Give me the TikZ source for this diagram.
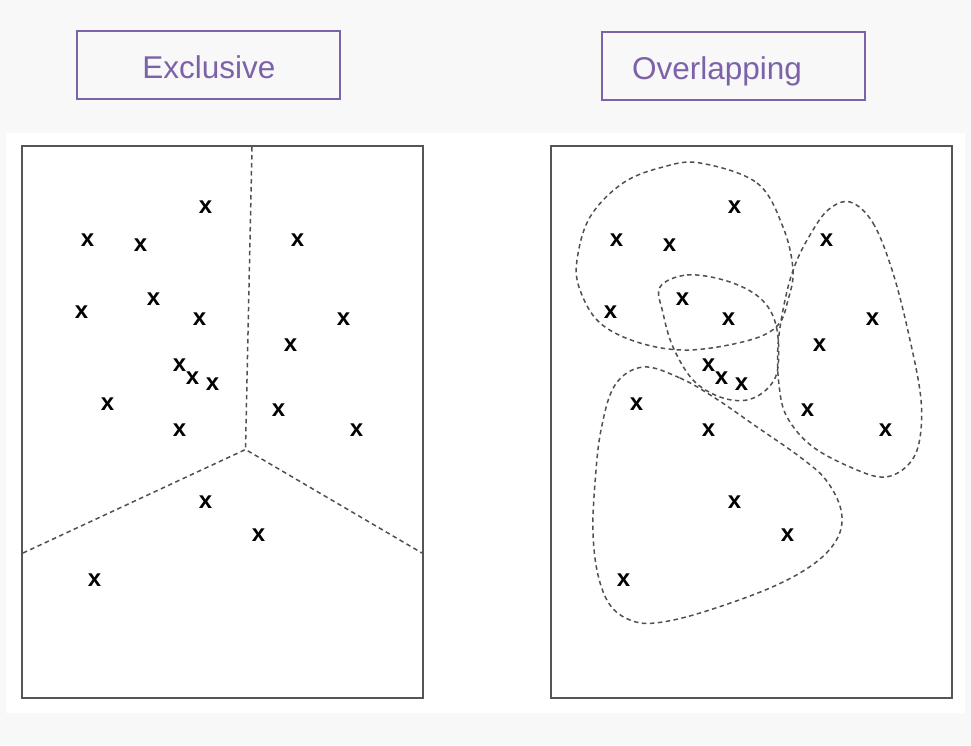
\documentclass[tikz,border=0pt]{standalone}
\usepackage{fontspec}
\setmainfont{Liberation Sans}
\definecolor{bggray}{HTML}{F8F8F8}
\definecolor{purp}{HTML}{7E62A9}
\definecolor{frame}{HTML}{555555}
\definecolor{dash}{HTML}{505050}
\tikzset{
  titlebox/.style={draw=purp, line width=2pt, minimum width=263pt, minimum height=68pt, inner sep=0pt},
  titletext/.style={text=purp, font=\fontsize{31.5}{36}\selectfont, inner sep=0pt, anchor=base},
  plotframe/.style={draw=frame, line width=1.6pt},
  sep/.style={draw=dash, line width=1.5pt, dash pattern=on 4.5pt off 3.5pt},
  pt/.style={font=\fontsize{24}{24}\bfseries\selectfont, inner sep=0pt, anchor=center}
}
\begin{document}
\begin{tikzpicture}[x=1pt,y=-1pt]
\useasboundingbox (0,0) rectangle (971,745);
\fill[bggray] (0,0) rectangle (971,745);
\fill[white] (6,133) rectangle (965,713);

% title boxes
\node[titlebox] (exbox) at (208.5,65) {};
\node[titletext] (extext) at (209,78) {Exclusive};
\node[titlebox] (ovbox) at (733,66) {};
\node[titletext] (ovtext) at (717,79) {Overlapping};

% frames
\draw[plotframe] (22,146) rectangle (423,698);
\draw[plotframe] (551,146) rectangle (952,698);

% left separators
\coordinate (j) at (245.5,449.5);
\coordinate (topend) at (252,147);
\coordinate (leftend) at (23,553);
\coordinate (rightend) at (422,553);
\draw[sep] (topend) -- (j);
\draw[sep] (leftend) -- (j) -- (rightend);

% points
\foreach \n/\x/\y in {1/205/206, 2/87/239, 3/140/244, 4/297/239, 5/153/298, 6/81/311, 7/199/318, 8/343/318, 9/290/344, 10/179/364, 11/192/377, 12/212/383, 13/107/403, 14/278/409, 15/179/429, 16/356/429, 17/205/501, 18/258/534, 19/94/579}{
  \node[pt] (L\n) at (\x+0.5,\y+1.5) {x};
  \node[pt] (R\n) at (\x+529.5,\y+1.5) {x};
}

% overlapping clusters
\draw[sep] plot[smooth cycle, tension=0.6] coordinates {(700,163) (757,183) (783,227) (793,270) (788,300) (778,325) (750,340) (690,350) (640,343) (600,323) (580,290) (577,260) (590,217) (623,183) (663,167)};
\draw[sep] plot[smooth cycle, tension=0.6] coordinates {(660,287) (687,275) (727,281) (760,298) (776,325) (778,367) (768,388) (747,400) (720,397) (693,380) (673,347) (663,313)};
\draw[sep] plot[smooth cycle, tension=0.6] coordinates {(850,202) (873,223) (893,273) (910,340) (921,400) (919,443) (907,466) (885,477) (857,470) (813,447) (787,417) (779,385) (778,345) (785,300) (795,265) (810,235) (828,210)};
\draw[sep] plot[smooth cycle, tension=0.6] coordinates {(643,367) (680,378) (715,398) (757,427) (800,457) (826,480) (841,510) (838,537) (815,563) (770,588) (700,613) (655,623) (630,620) (610,605) (598,575) (593,533) (595,483) (601,430) (615,385)};
\end{tikzpicture}
\end{document}
